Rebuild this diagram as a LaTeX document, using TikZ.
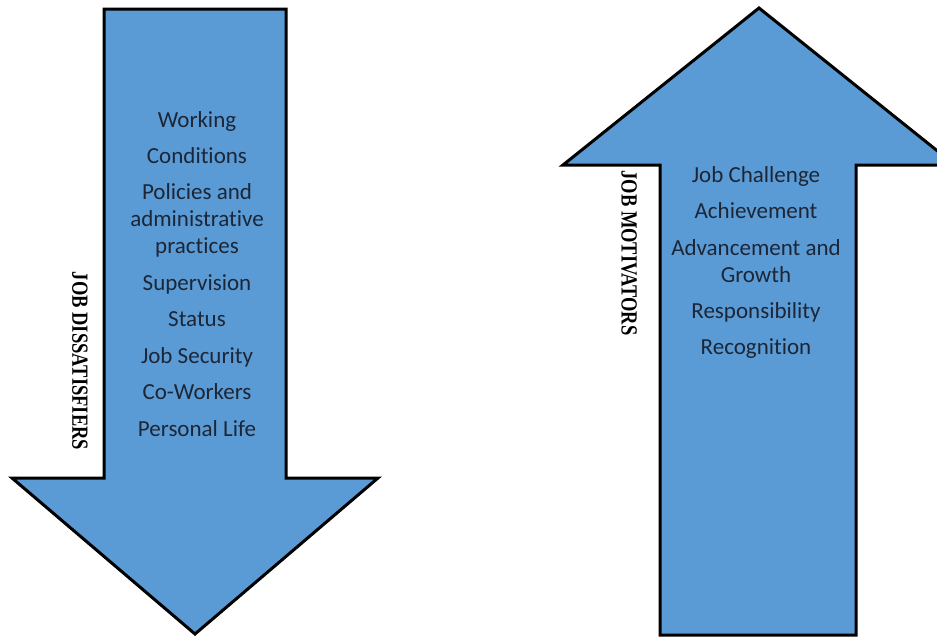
\documentclass[tikz,border=0pt]{standalone}
\usepackage{fontspec}
\setmainfont[Ligatures=CommonOff]{Carlito}
\newfontfamily\labelfont{Liberation Serif}
\definecolor{arrowblue}{HTML}{5B9BD5}
\definecolor{itemtext}{HTML}{1C2636}
\begin{document}
\begin{tikzpicture}[x=1pt,y=-1pt,
  bigarrow/.style={fill=arrowblue,draw=black,line width=3pt,line join=miter},
  item/.style={anchor=base,text=itemtext,font=\fontsize{23}{27}\selectfont,inner sep=0pt},
  sidelabel/.style={anchor=center,font=\labelfont\bfseries\fontsize{18.5}{20}\selectfont,rotate=-90,inner sep=0pt}]
\useasboundingbox (0,0) rectangle (937,637);
% down arrow
\draw[bigarrow] (104,9) -- (286,9) -- (286,478) -- (378,478) -- (195,634) -- (12,478) -- (104,478) -- cycle;
% up arrow
\begin{scope}
\clip (0,0) rectangle (937,637);
\draw[bigarrow] (759,8) -- (955,165) -- (856,165) -- (856,635) -- (660,635) -- (660,165) -- (563,165) -- cycle;
\end{scope}
% left items
\node[item] (d1) at (197,127) {Working};
\node[item] (d2) at (197,163) {Conditions};
\node[item] (d3a) at (197,199) {Policies and};
\node[item] (d3b) at (197,226) {administrative};
\node[item] (d3c) at (197,253) {practices};
\node[item] (d4) at (197,290) {Supervision};
\node[item] (d5) at (197,326) {Status};
\node[item] (d6) at (197,363) {Job Security};
\node[item] (d7) at (197,399) {Co-Workers};
\node[item] (d8) at (197,436) {Personal Life};
\node[sidelabel] (dl) at (80,361) {\scalebox{1}[1.25]{JOB DISSATISFIERS}};
% right items
\node[item] (m1) at (756,182) {Job Challenge};
\node[item] (m2) at (756,218) {Achievement};
\node[item] (m3a) at (756,255) {Advancement and};
\node[item] (m3b) at (756,282) {Growth};
\node[item] (m4) at (756,318) {Responsibility};
\node[item] (m5) at (756,354) {Recognition};
\node[sidelabel] (ml) at (629,253) {\scalebox{1}[1.25]{JOB MOTIVATORS}};
\end{tikzpicture}
\end{document}
